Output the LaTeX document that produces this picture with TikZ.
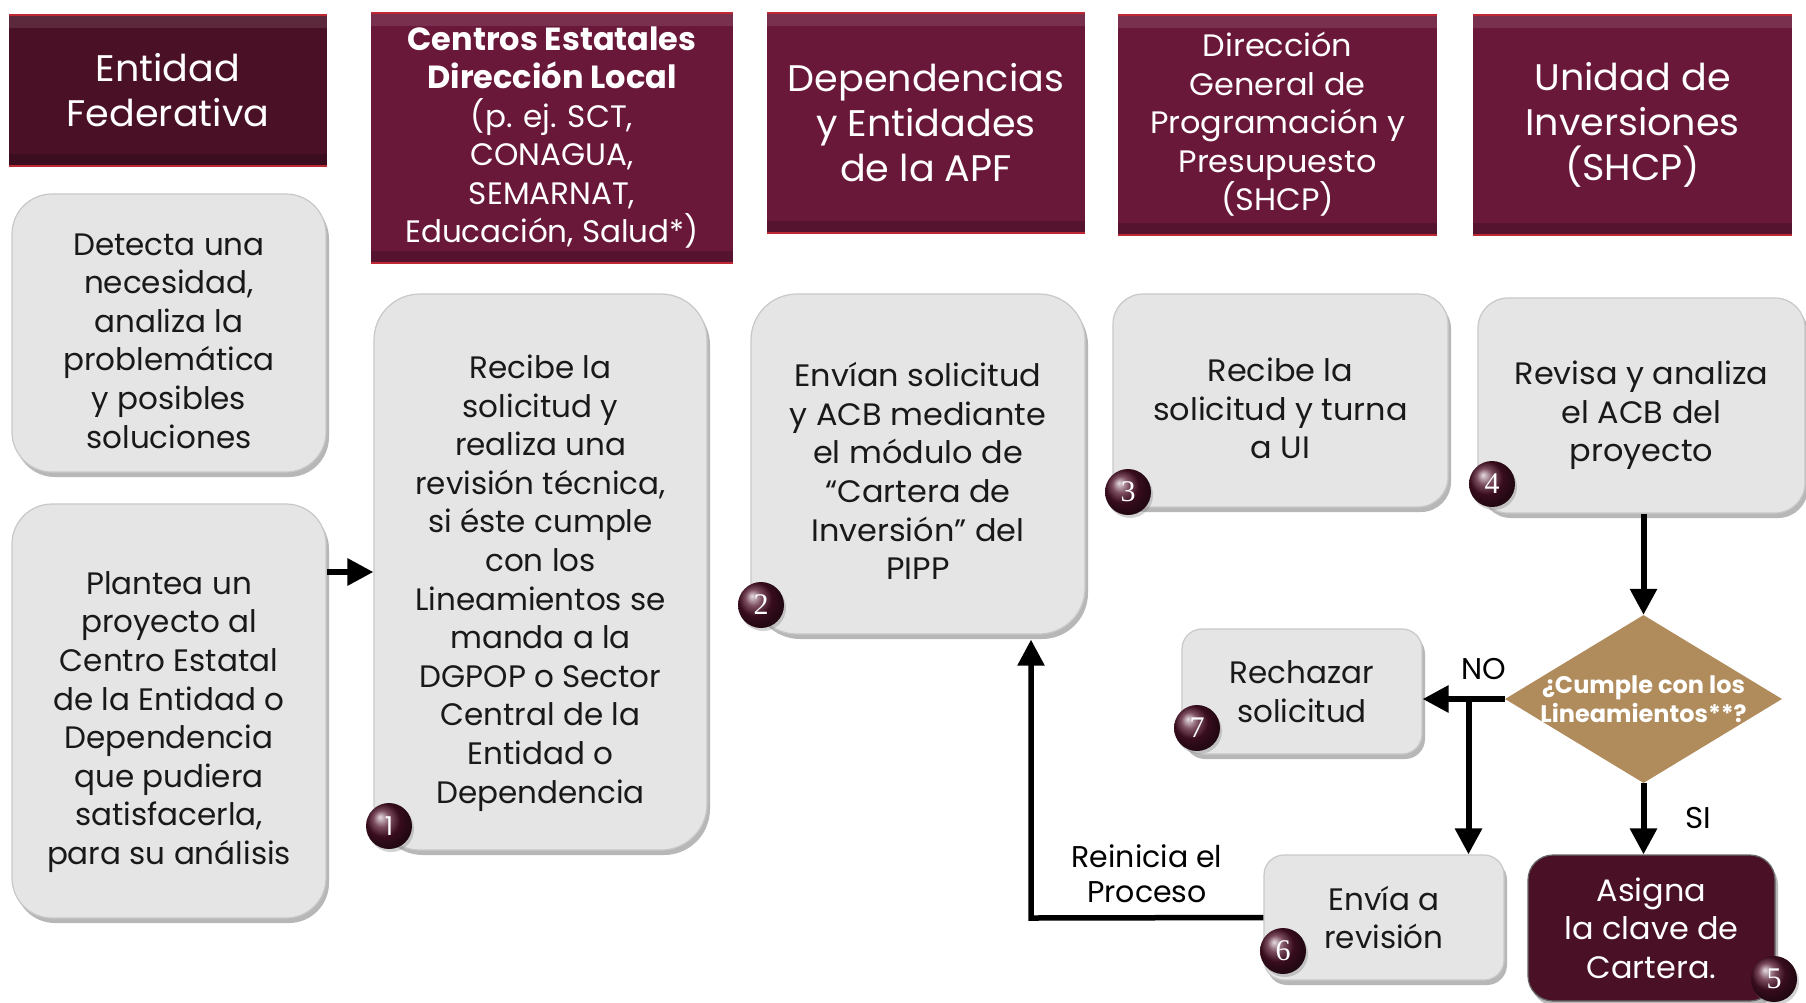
\documentclass[tikz,border=0pt]{standalone}
\usepackage{fontspec}
\setmainfont{Poppins}
\newfontfamily\condf{Poppins}[FakeStretch=1.03]
\newfontfamily\numf{Liberation Serif}
\usetikzlibrary{shadows,arrows.meta,shapes.geometric,calc}
\definecolor{maroon}{RGB}{106,24,58}
\definecolor{darkmaroon}{RGB}{74,17,38}
\definecolor{redline}{RGB}{190,40,50}
\definecolor{boxgray}{RGB}{229,229,229}
\definecolor{boxedge}{RGB}{200,200,200}
\definecolor{txt}{RGB}{25,25,25}
\definecolor{tan}{RGB}{176,139,92}
\definecolor{ballc}{RGB}{80,18,42}
\tikzset{
  gbox/.style={rectangle, rounded corners=#1, fill=boxgray, draw=boxedge, line width=1.2pt,
    drop shadow={shadow xshift=3pt, shadow yshift=-5pt, opacity=0.4, fill=black!70},
    text=txt, align=center, inner sep=0pt, font=\fontsize{31}{38.6}\selectfont},
  gbox/.default=40pt,
  gtxt/.style={text=txt, align=center, inner sep=0pt, font=\fontsize{31}{38.6}\selectfont},
  hdr/.style={rectangle, fill=#1, inner sep=0pt, text=white, align=center,
    path picture={
      \fill[white,opacity=0.10] (path picture bounding box.north west) rectangle ([yshift=-14pt]path picture bounding box.north east);
      \fill[black,opacity=0.18] (path picture bounding box.south west) rectangle ([yshift=12pt]path picture bounding box.south east);
      \draw[redline,line width=3pt] (path picture bounding box.north west) -- (path picture bounding box.north east);
      \draw[redline,line width=3pt] (path picture bounding box.south west) -- (path picture bounding box.south east);
    }},
  hdr/.default=maroon,
  ball/.style={circle, minimum size=46pt, inner sep=0pt, shading=ball, ball color=ballc,
    text=white, font=\numf\fontsize{30}{30}\selectfont,
    drop shadow={shadow xshift=2pt, shadow yshift=-3pt, opacity=0.35}},
  arr/.style={line width=6pt, draw=black, -{Triangle[length=26pt,width=26pt]}},
  lbl/.style={text=black, align=center, inner sep=0pt, font=\fontsize{30}{35}\selectfont},
}
\begin{document}
\begin{tikzpicture}[x=1pt,y=-1pt]
\useasboundingbox[fill=white] (0,0) rectangle (1806,1002);

% headers
\node[hdr=darkmaroon, minimum width=318pt, minimum height=152pt, font=\condf\fontsize{37}{45}\selectfont] (h1) at (168,90) {Entidad\\Federativa};
\node[hdr, minimum width=362pt, minimum height=251pt, font=\fontsize{31}{38.5}\selectfont] (h2) at (552,137.5)
  {\textbf{\fontsize{32}{38.5}\selectfont Centros Estatales}\\\textbf{\fontsize{32}{38.5}\selectfont Dirección Local}\\(p. ej. SCT,\\CONAGUA,\\SEMARNAT,\\Educación, Salud*)};
\node[hdr, minimum width=318pt, minimum height=221pt, font=\condf\fontsize{37}{45}\selectfont] (h3) at (926,122.5) {Dependencias\\y Entidades\\de la APF};
\node[hdr, minimum width=319pt, minimum height=221pt, font=\condf\fontsize{31}{38.5}\selectfont] (h4) at (1277.5,124.5) {Dirección\\General de\\Programación y\\Presupuesto\\(SHCP)};
\node[hdr, minimum width=319pt, minimum height=221pt, font=\condf\fontsize{37}{45}\selectfont] (h5) at (1632.5,124.5) {Unidad de\\Inversiones\\(SHCP)};

% gray boxes
\node[gbox=40pt, minimum width=314pt, minimum height=278pt,
  label={[gtxt, yshift=-8pt]center:{Detecta una\\necesidad,\\analiza la\\problemática\\y posibles\\soluciones}}] (A) at (169,333) {};
\node[gbox=40pt, minimum width=314pt, minimum height=414pt,
  label={[gtxt, yshift=-11pt]center:{Plantea un\\proyecto al\\Centro Estatal\\de la Entidad o\\Dependencia\\que pudiera\\satisfacerla,\\para su análisis}}] (B) at (169,711) {};
\node[gbox=46pt, minimum width=333pt, minimum height=556pt,
  label={[gtxt, yshift=-11pt]center:{Recibe la\\solicitud y\\realiza una\\revisión técnica,\\si éste cumple\\con los\\Lineamientos se\\manda a la\\DGPOP o Sector\\Central de la\\Entidad o\\Dependencia}}] (C) at (540.5,572) {};
\node[gbox=46pt, minimum width=334pt, minimum height=340pt,
  label={[gtxt, yshift=-7pt, font=\condf\fontsize{31}{38.6}\selectfont]center:{Envían solicitud\\y ACB mediante\\el módulo de\\“Cartera de\\Inversión” del\\PIPP}}] (D) at (918,464) {};
\node[gbox=30pt, minimum width=335pt, minimum height=213pt,
  label={[gtxt, yshift=-8pt, font=\condf\fontsize{31}{38.6}\selectfont]center:{Recibe la\\solicitud y turna\\a UI}}] (E) at (1280.5,400.5) {};
\node[gbox=30pt, minimum width=327pt, minimum height=215pt,
  label={[gtxt, yshift=-10pt, font=\condf\fontsize{31}{38.6}\selectfont]center:{Revisa y analiza\\el ACB del\\proyecto}}] (F) at (1641.5,405.5) {};
\node[gbox=20pt, minimum width=240pt, minimum height=125pt] (G) at (1302,691.5) {Rechazar\\solicitud};
\node[gbox=20pt, minimum width=240pt, minimum height=125pt] (H) at (1384,917.5) {Envía a\\revisión};
\node[gbox=25pt, fill=darkmaroon, draw=black!60, text=white, minimum width=247pt, minimum height=146pt, font=\condf\fontsize{31}{38.6}\selectfont] (I) at (1651.5,928)
  {Asigna\\la clave de\\Cartera.};

% decision
\node[diamond, fill=tan, minimum width=277pt, minimum height=168pt, inner sep=0pt,
  label={[text=white, align=center, inner sep=0pt, font=\bfseries\fontsize{24}{29}\selectfont]center:{¿Cumple con los\\Lineamientos**?}}] (Dm) at (1643.5,699) {};

% connectors
\coordinate (br) at (1468.5,701);
\coordinate (ret) at (1031,918);
\draw[arr] (B.east |- C.west) -- (C.west);
\draw[arr] (Dm.north |- F.south) -- (Dm.north);
\draw[arr] (Dm.west) -- (Dm.west -| G.east);
\draw[arr] (br) -- (br |- H.north);
\draw[arr] (Dm.south) -- (Dm.south |- I.north);
\draw[arr, line width=5.5pt, shorten >=5pt] (H.west) -- (ret) -- (ret |- D.south);

% labels
\node[lbl] (no) at (1483.5,669) {NO};
\node[lbl, font=\condf\fontsize{30}{34}\selectfont] (si) at (1698,818) {SI};
\node[lbl] (rein) at (1147,874) {Reinicia el\\Proceso};

% step balls
\node[ball, font=\fontsize{26}{26}\selectfont] (c1) at (389,826) {1};
\node[ball] (c2) at (761,605) {2};
\node[ball] (c3) at (1128,492) {3};
\node[ball] (c4) at (1492,484) {4};
\node[ball] (c5) at (1774,979) {5};
\node[ball] (c6) at (1283,951) {6};
\node[ball] (c7) at (1197,728) {7};
\end{tikzpicture}
\end{document}
